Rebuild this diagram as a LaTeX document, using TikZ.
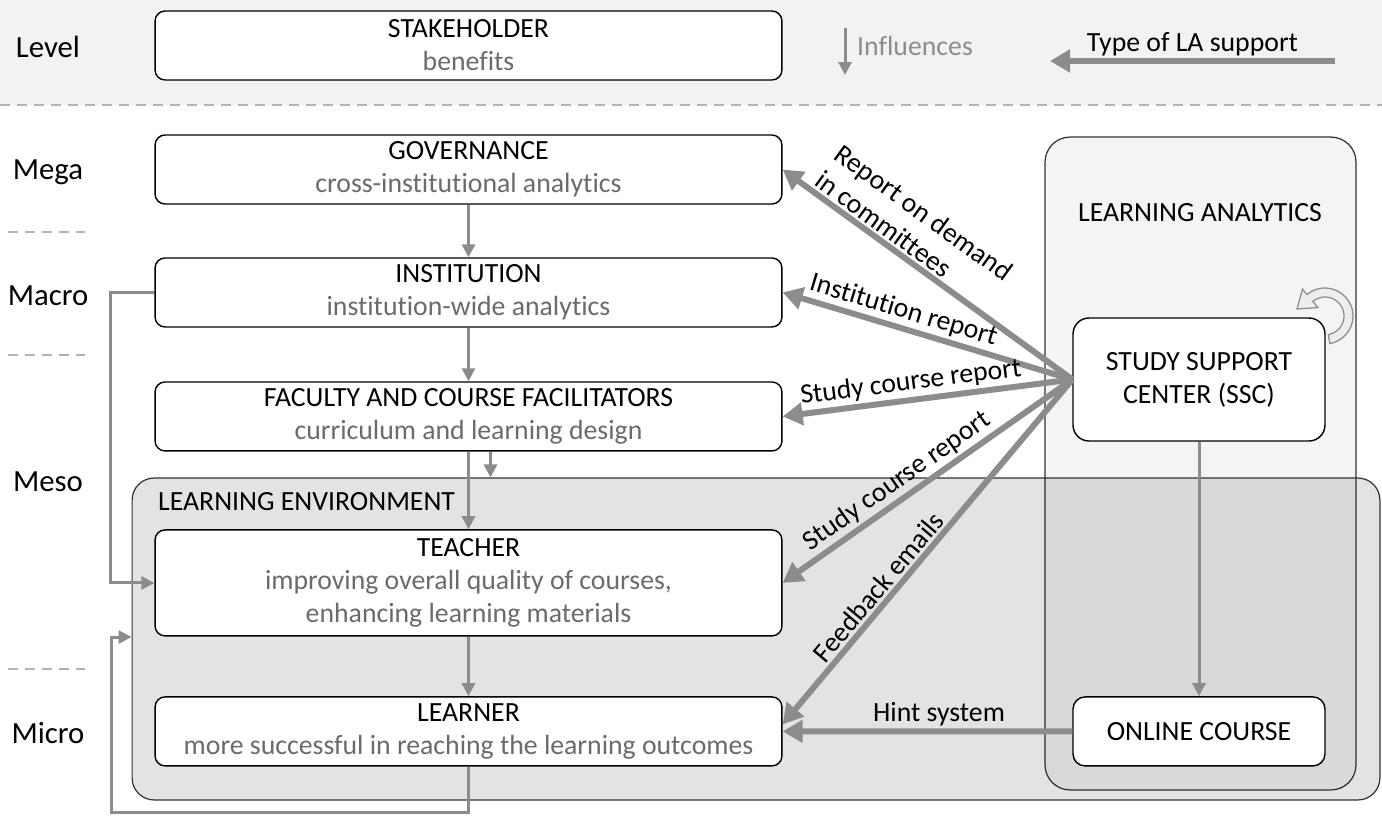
\documentclass[tikz,border=0pt]{standalone}
\usepackage{fontspec}
\setmainfont{Carlito}[Ligatures=NoCommon]
\usepackage{tikz}
\usetikzlibrary{arrows.meta, positioning}
\definecolor{bandgray}{HTML}{F2F2F2}
\definecolor{lagray}{HTML}{F4F4F4}
\definecolor{linegray}{HTML}{8C8C8C}
\definecolor{subgray}{HTML}{6B6B6B}
\definecolor{dashgray}{HTML}{B4B4B4}
\newcommand{\diagfont}{\fontsize{15.8}{18.8}\selectfont}
\newcommand{\levelfont}{\fontsize{17.5}{20}\selectfont}
\tikzstyle{stakebox} = [rectangle, rounded corners=0.2cm, minimum width=12.54cm, minimum height=1.38cm, align=center, draw=black, line width=0.8pt, fill=white]
\tikzstyle{centerbox} = [rectangle, rounded corners=0.32cm, minimum width=5.04cm, minimum height=2.46cm, align=center, draw=black, line width=0.8pt, fill=white]
\tikzstyle{labox} = [rectangle, rounded corners=0.5cm, inner sep=0, draw=black!80, line width=0.7pt, fill=lagray]
\tikzstyle{envbox} = [rectangle, rounded corners=0.44cm, inner sep=0, draw=black!80, line width=0.7pt, fill=black, fill opacity=0.11, draw opacity=1]
\tikzstyle{levelsep} = [dashgray, line width=0.04cm, dash pattern=on 0.2cm off 0.14cm]
\tikzstyle{influence} = [linegray, line width=0.06cm, -{Triangle[length=0.26cm, width=0.26cm]}]
\tikzstyle{support} = [linegray, line width=0.12cm, -{Triangle[length=0.4cm, width=0.44cm]}]
\tikzstyle{edgelabel} = [text=black, inner sep=0.05cm]

\begin{document}
\begin{tikzpicture}[x=0.02cm, y=-0.02cm, font=\diagfont]
\useasboundingbox (0,0) rectangle (1382,818);

            % Bands and level separators
            \fill[bandgray] (0,0) rectangle (1382,105);
            \draw[levelsep] (0,105) -- (1382,105);
            \foreach \y in {232,355,669}
                \draw[levelsep] (8,\y) -- (85,\y);

            % Containers
            \node (lanalytics) [labox, minimum width=6.22cm, minimum height=13.06cm] at (1200.5,463.5) {};
            \node (envbox) [envbox, minimum width=24.96cm, minimum height=6.44cm] at (756,639) {};
            \node (latitle) at (1200,213) {LEARNING ANALYTICS};
            \node (envtitle) [anchor=west] at (152,502) {LEARNING ENVIRONMENT};

            % Level names
            \node (lvl) [font=\levelfont] at (48,47) {Level};
            \node (mega) [font=\levelfont] at (48,172) {Mega};
            \node (macro) [font=\levelfont] at (48,296) {Macro};
            \node (meso) [font=\levelfont] at (48,482) {Meso};
            \node (micro) [font=\levelfont] at (48,733) {Micro};

            % Place nodes
            \node (stake) [stakebox] at (468.5,45.5) {STAKEHOLDER\\\textcolor{subgray}{benefits}};
            \node (gov) [stakebox] at (468.5,169.5) {GOVERNANCE\\\textcolor{subgray}{cross-institutional analytics}};
            \node (inst) [stakebox, below of=gov, node distance=2.46cm] {INSTITUTION\\\textcolor{subgray}{institution-wide analytics}};
            \node (fac) [stakebox, below of=inst, node distance=2.48cm] {FACULTY AND COURSE FACILITATORS\\\textcolor{subgray}{curriculum and learning design}};
            \node (teacher) [stakebox, minimum height=2.12cm, below of=fac, node distance=3.33cm] {TEACHER\\\textcolor{subgray}{improving overall quality of courses,}\\\textcolor{subgray}{enhancing learning materials}};
            \node (learner) [stakebox, below of=teacher, node distance=2.97cm] {LEARNER\\\textcolor{subgray}{more successful in reaching the learning outcomes}};
            \node (ssc) [centerbox] at (1199,379.5) {STUDY SUPPORT\\CENTER (SSC)};
            \node (online) [centerbox, minimum height=1.38cm, rounded corners=0.24cm, below of=ssc, node distance=7.04cm] {ONLINE COURSE};

            % Legend in the top band
            \coordinate (inftop) at (845,28);
            \coordinate (infbot) at (845,75);
            \node (inflabel) [anchor=west, text=linegray] at (851,46) {Influences};
            \coordinate (typestart) at (1335,61);
            \coordinate (typeend) at (1050,61);
            \coordinate (backin) at (111,637);

            % Draw edges
            \draw [influence] (inftop) -- (infbot);
            \draw [support] (typestart) -- node[above, edgelabel] {Type of LA support} (typeend);
            \draw [influence] (gov) -- (inst);
            \draw [influence] (inst) -- (fac);
            \draw [influence] (fac) -- (teacher);
            \draw [influence] ([xshift=0.44cm]fac.south) -- ([xshift=0.44cm]fac.south |- envbox.north);
            \draw [influence] (teacher) -- (learner);
            \draw [influence] (inst.west) -- ++(-44,0) |- (teacher.west);
            \draw [influence] (learner.south) -- ++(0,46) -| (backin) -- (backin -| envbox.west);
            \draw [influence] (ssc.south) -- (ssc.south |- online.north);
            \draw [support] (ssc.west) -- node[above, sloped, pos=0.61, align=left, edgelabel] {Report on demand\\in committees} (gov.east);
            \draw [support] (ssc.west) -- node[above, sloped, pos=0.6, edgelabel] {Institution report} (inst.east);
            \draw [support] (ssc.west) -- node[above, sloped, pos=0.55, edgelabel] {Study course report} (fac.east);
            \draw [support] (ssc.west) -- node[above, sloped, pos=0.57, edgelabel] {Study course report} (teacher.east);
            \draw [support] (ssc.west) -- node[above, sloped, pos=0.63, edgelabel] {Feedback emails} ([yshift=0.14cm]learner.east);
            \draw [support] (online.west) -- node[above, pos=0.46, edgelabel] {Hint system} (learner.east);

            % Cycle sign at the SSC
            \begin{scope}[shift={(1325,316)}]
                \filldraw [draw=linegray, fill=black!7, line width=0.7pt] (-80:0.56cm) arc[start angle=-80, end angle=130, radius=0.56cm] -- (130:0.7cm) -- (-0.56cm,0.14cm) -- (130:0.22cm) -- (130:0.38cm) arc[start angle=130, end angle=-80, radius=0.38cm] -- cycle;
            \end{scope}
        \end{tikzpicture}
\end{document}
